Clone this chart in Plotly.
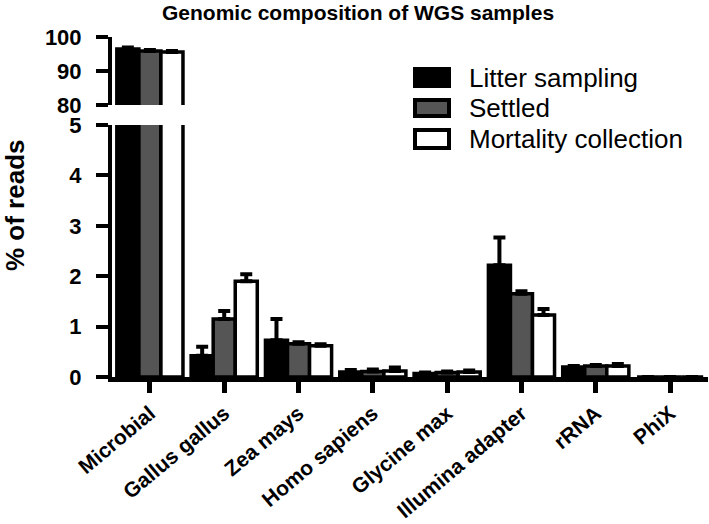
import plotly.graph_objects as go

categories = ["Microbial", "Gallus gallus", "Zea mays", "Homo sapiens",
              "Glycine max", "Illumina adapter", "rRNA", "PhiX"]
series_names = ["Litter sampling", "Settled", "Mortality collection"]
litter = [96.5, 0.42, 0.73, 0.10, 0.07, 2.22, 0.20, 0.0]
litter_err = [0.4, 0.18, 0.42, 0.04, 0.02, 0.55, 0.02, 0.0]
settled = [95.9, 1.15, 0.66, 0.11, 0.09, 1.65, 0.22, 0.0]
settled_err = [0.3, 0.16, 0.03, 0.04, 0.02, 0.05, 0.02, 0.0]
mortality = [95.6, 1.90, 0.62, 0.12, 0.10, 1.23, 0.22, 0.0]
mortality_err = [0.3, 0.14, 0.03, 0.07, 0.03, 0.12, 0.04, 0.0]

values = [litter, settled, mortality]
errors = [litter_err, settled_err, mortality_err]
fills = ["#000000", "#555555", "#ffffff"]

FONT = "Liberation Sans"
# plot area in pixels
PL, PT, PW, PH = 112, 37, 596, 340


def px(x):
    return (x - PL) / PW


def py(y):
    return (PT + PH - y) / PH


fig = go.Figure()
for panel, (xa, ya) in enumerate([("x", "y"), ("x2", "y2")]):
    for name, v, e, c in zip(series_names, values, errors, fills):
        fig.add_trace(go.Bar(
            x=categories, y=v, name=name, xaxis=xa, yaxis=ya,
            marker=dict(color=c, line=dict(color="black", width=3.5)),
            error_y=dict(type="data", array=e, arrayminus=[0] * len(e),
                         symmetric=False, color="black", thickness=4, width=6),
            showlegend=False, legendgroup=name,
        ))

axis_common = dict(showgrid=False, zeroline=False, showline=True, linecolor="black",
                   linewidth=4, ticks="outside", ticklen=12, tickwidth=4, tickcolor="black",
                   ticklabelstandoff=10, automargin=False,
                   tickfont=dict(family=FONT, size=22, color="black", weight="bold"))

# legend drawn as swatches + text
shapes = []
annotations = []
legend_rows = [(67, 88), (98, 118), (128, 150)]
for (y0, y1), name, c in zip(legend_rows, series_names, fills):
    shapes.append(dict(type="rect", xref="paper", yref="paper",
                       x0=px(415), x1=px(449), y0=py(y1 - 2), y1=py(y0 + 2),
                       fillcolor=c, line=dict(color="black", width=4)))
    annotations.append(dict(text=name, xref="paper", yref="paper",
                            x=px(467), y=py((y0 + y1) / 2), xanchor="left",
                            yanchor="middle", showarrow=False,
                            font=dict(family=FONT, size=26, color="black")))

annotations.append(dict(text="% of reads", xref="paper", yref="paper", x=px(15), y=py(205),
                        textangle=-90, showarrow=False, xanchor="center", yanchor="middle",
                        font=dict(family=FONT, size=26, color="black", weight="bold")))

fig.update_layout(
    width=709, height=524,
    margin=dict(l=PL, r=709 - PL - PW, t=PT, b=524 - PT - PH, autoexpand=False),
    plot_bgcolor="white", paper_bgcolor="white",
    barmode="group", bargap=0.11, bargroupgap=0,
    showlegend=False,
    title=dict(text="Genomic composition of WGS samples", x=0.505, xanchor="center",
               y=1 - 13 / 524, yanchor="middle",
               font=dict(family=FONT, size=21, color="black", weight="bold")),
    xaxis=dict(range=[-0.51, 7.51], anchor="y", showgrid=False, zeroline=False,
               showline=True, linecolor="black", linewidth=5, ticks="outside",
               ticklen=11, tickwidth=5, tickcolor="black", tickangle=-40,
               automargin=False,
               tickfont=dict(family=FONT, size=21, color="black", weight="bold")),
    xaxis2=dict(range=[-0.51, 7.51], anchor="y2", matches="x", showticklabels=False,
                showgrid=False, zeroline=False, showline=False, ticks="",
                automargin=False),
    yaxis=dict(domain=[0, 0.741], range=[0, 5], tickvals=[0, 1, 2, 3, 4, 5], **axis_common),
    yaxis2=dict(domain=[0.8, 1.0], range=[80, 100], tickvals=[80, 90, 100], **axis_common),
    shapes=shapes,
    annotations=annotations,
)

fig.write_html("out.html", config={"displayModeBar": False},
               post_script="document.body.style.margin='0';")
